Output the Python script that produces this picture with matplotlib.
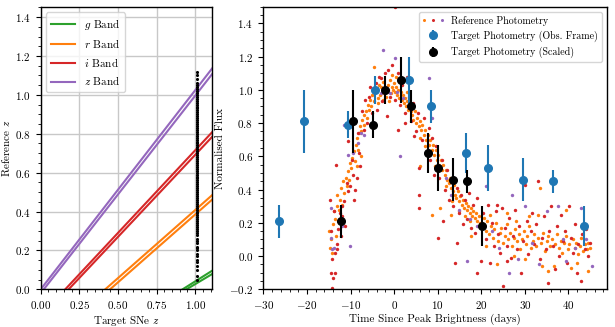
import matplotlib
matplotlib.use("Agg")
import matplotlib.pyplot as plt
import numpy as np
from matplotlib.ticker import AutoMinorLocator
from matplotlib.lines import Line2D
from matplotlib.legend_handler import HandlerTuple

plt.rcParams['font.family'] = 'serif'
plt.rcParams['font.serif'] = ['cmr10']
plt.rcParams['mathtext.fontset'] = 'cm'
plt.rcParams['axes.formatter.use_mathtext'] = True
plt.rcParams['font.size'] = 8

# --- left panel: band edges (target z, reference z) end points ---
bands = ['g', 'r', 'i', 'z']
band_colors = ['tab:green', 'tab:orange', 'tab:red', 'tab:purple']
# x-intercept (ref z = 0) of the two edge lines of each band
band_x0 = [(0.919, 0.944), (0.418, 0.449), (0.159, 0.181), (0.000, 0.020)]
# ref z reached by each edge at target z = 1.111
band_y1 = [(0.096, 0.079), (0.485, 0.462), (0.809, 0.785), (1.137, 1.108)]
z_end = 1.111

# reference redshifts of the sample at the target redshift
strip_x = 1.01
strip_z = [0.05, 0.07, 0.10, 0.12, 0.14, 0.15, 0.17, 0.18, 0.20, 0.21, 0.22, 0.24,
           0.25, 0.26, 0.28, 0.29, 0.30, 0.31, 0.32, 0.33, 0.34, 0.35, 0.36, 0.37,
           0.38, 0.39, 0.40, 0.41, 0.42, 0.43, 0.44, 0.45, 0.46, 0.47, 0.48, 0.49,
           0.50, 0.51, 0.52, 0.53, 0.54, 0.55, 0.56, 0.57, 0.58, 0.59, 0.60, 0.61,
           0.62, 0.63, 0.64, 0.65, 0.66, 0.67, 0.68, 0.69, 0.70, 0.71, 0.72, 0.73,
           0.74, 0.75, 0.76, 0.77, 0.78, 0.79, 0.80, 0.81, 0.82, 0.83, 0.84, 0.85,
           0.86, 0.87, 0.88, 0.89, 0.90, 0.91, 0.92, 0.93, 0.94, 0.95, 0.96, 0.97,
           0.98, 0.99, 1.00, 1.01, 1.02, 1.03, 1.04, 1.05, 1.06, 1.08, 1.10, 1.12]

# --- right panel: reference photometry ---
orange_pts = [
    (-15.0, 0.15), (-14.7, 0.05), (-14.5, 0.10), (-14.3, 0.02), (-14.1, 0.19), (-13.9, 0.27),
    (-13.6, 0.22), (-13.4, 0.12), (-13.1, 0.37), (-13.0, 0.30), (-12.8, 0.21), (-12.6, 0.28),
    (-12.4, 0.34), (-12.1, 0.41), (-11.9, 0.31), (-11.7, 0.45), (-11.4, 0.38), (-11.1, 0.47),
    (-10.9, 0.42), (-10.6, 0.51), (-10.3, 0.46), (-10.1, 0.56), (-9.8, 0.53), (-9.6, 0.59),
    (-9.3, 0.63), (-9.0, 0.57), (-8.8, 0.67), (-8.5, 0.71), (-8.3, 0.64), (-8.0, 0.74),
    (-7.8, 0.78), (-7.5, 0.75), (-7.3, 0.82), (-7.0, 0.79), (-6.8, 0.85), (-6.5, 0.87),
    (-6.3, 0.83), (-6.0, 0.91), (-5.8, 0.88), (-5.5, 0.94), (-5.3, 0.90), (-5.0, 0.97),
    (-4.7, 1.14), (-4.6, 0.93), (-8.6, 0.54), (-7.6, 0.60),
    (-4.3, 0.99), (-4.0, 1.01), (-3.8, 0.95), (-3.5, 1.03), (-3.3, 0.97), (-3.0, 1.02),
    (-2.8, 0.98), (-2.5, 1.05), (-2.3, 0.99), (-2.0, 1.01), (-1.8, 0.96), (-1.5, 1.03),
    (-1.3, 1.00), (-1.0, 1.06), (-0.8, 0.98), (-0.5, 1.02), (-0.3, 1.00), (0.0, 1.04),
    (0.2, 0.99), (0.5, 1.02), (0.7, 0.97), (1.0, 1.00), (1.2, 0.95), (1.5, 0.99),
    (1.7, 0.94), (2.0, 0.97), (2.2, 0.92), (2.5, 0.95), (2.7, 0.90), (3.0, 0.93),
    (3.2, 0.88), (3.5, 0.91), (3.8, 0.87), (-3.6, 0.92), (-2.6, 0.94), (-1.1, 0.93),
    (0.4, 1.08), (1.4, 1.05), (2.9, 0.99), (-0.6, 1.09),
    (4.1, 0.85), (4.4, 0.82), (4.7, 0.87), (5.0, 0.80), (5.3, 0.83), (5.6, 0.78),
    (5.9, 0.81), (6.2, 0.76), (6.5, 0.79), (6.8, 0.73), (7.1, 0.76), (7.4, 0.70),
    (7.7, 0.73), (8.0, 0.67), (8.3, 0.70), (8.6, 0.64), (8.9, 0.67), (9.2, 0.61),
    (9.5, 0.64), (9.8, 0.58), (10.1, 0.61), (10.4, 0.55), (10.7, 0.58), (11.0, 0.52),
    (11.3, 0.55), (11.6, 0.49), (11.9, 0.52), (12.2, 0.46), (12.5, 0.44), (12.8, 0.47),
    (13.1, 0.41), (13.4, 0.39), (13.7, 0.43), (14.0, 0.37), (14.3, 0.35), (14.6, 0.39),
    (14.9, 0.33), (15.2, 0.36), (15.5, 0.31), (15.8, 0.34), (16.1, 0.29), (16.4, 0.32),
    (16.7, 0.28), (17.0, 0.30), (17.3, 0.26), (17.6, 0.29), (17.9, 0.24), (18.2, 0.27),
    (18.5, 0.23), (18.8, 0.26), (19.1, 0.21), (19.4, 0.24), (19.7, 0.20), (6.0, 0.71),
    (7.0, 0.66), (9.4, 0.54), (11.8, 0.42), (13.2, 0.33), (15.0, 0.27), (16.3, 0.24),
    (17.5, 0.21), (5.9, 0.54), (8.6, 0.25), (10.6, 0.29), (13.1, 0.25), (17.7, 0.12),
    (20.2, 0.19), (20.6, 0.23), (21.0, 0.15), (21.4, 0.21), (21.8, 0.13), (22.2, 0.18),
    (22.6, 0.11), (23.0, 0.16), (23.4, 0.20), (23.8, 0.09), (24.2, 0.14), (24.6, 0.17),
    (25.0, 0.08), (25.4, 0.12), (25.8, 0.19), (26.2, 0.10), (26.6, 0.14), (27.0, 0.06),
    (27.4, 0.11), (27.8, 0.16), (28.2, 0.09), (28.6, 0.13), (29.0, 0.04), (29.4, 0.10),
    (29.8, 0.15), (30.2, 0.07), (30.6, 0.12), (31.0, 0.18), (31.4, 0.05), (31.8, 0.09),
    (32.2, 0.13), (32.6, 0.06), (33.0, 0.11), (33.4, 0.41), (33.8, 0.08), (34.2, 0.14),
    (34.6, 0.03), (35.0, 0.09), (35.4, 0.12), (35.8, 0.06), (36.2, 0.10), (36.6, -0.06),
    (37.0, 0.07), (37.4, 0.13), (37.8, 0.05), (38.2, 0.09), (38.6, 0.02), (39.0, 0.08),
    (39.4, 0.12), (39.8, 0.04), (40.2, 0.07), (40.6, -0.07), (41.0, 0.10), (41.4, 0.05),
    (41.8, 0.08), (42.2, 0.01), (42.6, 0.06), (43.0, 0.11), (43.4, 0.03), (43.8, 0.07),
    (44.2, 0.04), (44.6, 0.08), (45.0, 0.05), (22.0, 0.25), (26.0, 0.26), (28.0, 0.21),
    (31.0, 0.24), (33.0, 0.25), (39.5, 0.28), (21.0, 0.06), (23.5, -0.05), (27.5, 0.00),
    (30.0, -0.02), (34.0, -0.06), (35.4, -0.09), (42.0, -0.04), (44.5, -0.09),
]
red_pts = [
    (-14.8, 0.34), (-14.5, -0.10), (-14.3, -0.02), (-14.2, -0.19), (-14.0, -0.13), (-13.6, -0.10),
    (-13.5, 0.02), (-13.3, 0.55), (-13.2, 0.04), (-13.0, 0.07), (-12.8, 0.16), (-12.5, 0.26),
    (-12.2, 0.12), (-11.9, 0.24), (-11.6, 0.33), (-11.3, 0.18), (-10.9, 0.44), (-10.7, 0.69),
    (-10.5, 0.39), (-10.2, 0.42), (-9.7, 0.58), (-9.4, 0.49), (-9.1, 0.34), (-8.9, 0.40),
    (-8.6, 0.47), (-8.3, 0.74), (-8.0, 0.62), (-7.8, 0.54), (-7.4, 0.87), (-7.0, 0.76),
    (-6.6, 0.94), (-6.3, 0.80), (-5.8, 0.96), (-5.5, 1.02), (-5.0, 0.86), (-12.0, 0.30),
    (-13.8, 0.27), (-14.6, 0.15),
    (-4.2, 1.04), (-3.9, 0.88), (-3.4, 1.08), (-3.1, 1.07), (-2.7, 0.93), (-2.2, 1.10),
    (-1.9, 0.99), (-1.4, 1.12), (-0.9, 0.96), (-0.4, 1.15), (0.1, 1.50), (0.3, 0.94),
    (0.9, 1.10), (1.4, 0.91), (1.9, 1.03), (2.4, 0.86), (2.9, 1.08), (3.4, 0.96),
    (3.9, 0.81), (0.8, 0.76), (4.5, 0.72), (2.5, 0.80), (-1.6, 0.84),
    (4.4, 0.92), (5.0, 0.75), (5.5, 0.86), (5.8, 0.53), (5.8, 0.37), (5.8, 0.29),
    (6.3, 0.70), (6.8, 0.83), (7.3, 0.62), (7.9, 0.77), (8.3, 0.58), (8.8, 0.71),
    (9.2, 0.49), (9.7, 0.66), (10.0, 0.11), (10.4, 0.47), (10.9, 0.58), (11.3, 0.21),
    (11.6, 0.40), (12.1, 0.52), (12.6, 0.34), (13.0, 0.45), (13.5, 0.30), (14.0, -0.04),
    (14.4, 0.08), (14.5, 0.41), (14.9, 0.26), (15.3, 0.37), (15.8, 0.19), (16.2, 0.34),
    (16.7, 0.22), (17.2, 0.38), (17.6, 0.17), (18.1, 0.31), (18.6, 0.14), (19.1, 0.35),
    (19.0, -0.10), (20.0, -0.03),
    (20.5, 0.26), (21.0, 0.10), (21.5, 0.31), (22.0, -0.04), (22.4, 0.20), (22.9, 0.06),
    (23.3, 0.27), (23.8, 0.13), (24.2, 0.02), (24.7, 0.29), (25.1, -0.18), (25.5, 0.17),
    (26.0, 0.06), (26.4, 0.23), (26.9, -0.01), (27.3, 0.12), (27.8, 0.28), (28.2, 0.04),
    (28.6, 0.18), (29.1, -0.10), (29.5, 0.09), (30.0, 0.43), (30.4, 0.21), (30.8, 0.01),
    (31.3, 0.15), (31.7, 0.26), (32.1, 0.07), (32.6, 0.19), (33.0, 0.45), (33.4, -0.02),
    (33.9, 0.11), (34.3, 0.24), (34.8, 0.04), (35.2, -0.16), (35.6, 0.15), (36.1, 0.30),
    (36.5, 0.06), (36.9, -0.08), (37.4, 0.18), (37.8, 0.00), (38.3, 0.25), (38.7, 0.09),
    (39.2, 0.15), (39.6, -0.04), (40.1, 0.30), (40.5, 0.11), (41.0, 0.02), (41.4, 0.19),
    (41.9, -0.10), (42.3, 0.07), (42.8, -0.15), (43.2, 0.13), (43.7, 0.04), (44.1, 0.16),
    (44.6, 0.00), (45.0, 0.08), (23.5, 0.31), (25.8, -0.03),
]
purple_pts = [
    (-14.6, 0.29), (-14.4, 0.11), (-14.2, 0.04), (-13.9, 0.05), (-12.0, 0.18), (-11.4, 0.79),
    (-10.2, 0.06), (-10.6, 0.61), (-9.5, 0.62), (-8.2, 0.68), (-7.6, 0.74), (-6.9, 0.73),
    (-2.6, 1.24), (-2.9, 0.98), (-1.0, 0.98), (0.1, 1.19), (0.6, 0.99), (1.4, 0.60),
    (2.0, 0.95), (7.9, 1.07), (8.8, 0.83), (10.0, 0.52), (12.0, 0.47), (13.0, 0.37),
    (15.0, 0.28), (16.7, -0.03), (17.5, 0.22), (19.0, 0.18), (21.2, 0.42), (22.5, 0.15),
    (24.0, 0.05), (26.3, -0.10), (27.0, 0.37), (28.5, -0.02), (30.1, 0.30), (31.6, 0.08),
    (33.3, -0.05), (35.0, 0.27), (37.5, 0.30), (38.8, 0.10), (39.5, -0.03), (41.5, 0.05),
    (43.0, 0.29), (44.0, 0.10), (45.5, -0.06),
]

# target photometry
flux = [0.21, 0.81, 0.79, 1.00, 1.06, 0.90, 0.62, 0.53, 0.46, 0.45, 0.18]
flux_err = [0.10, 0.19, 0.08, 0.085, 0.14, 0.10, 0.12, 0.14, 0.13, 0.07, 0.12]
t_obs = [-26.5, -20.6, -10.6, -4.5, 3.3, 8.5, 16.6, 21.6, 29.5, 36.5, 43.6]
t_scaled = [-12.1, -9.4, -4.8, -2.0, 1.6, 3.9, 7.8, 10.1, 13.6, 16.8, 20.2]

fig = plt.figure(figsize=(6.15, 3.27), dpi=100)
ax1 = fig.add_axes([0.0662, 0.1153, 0.279, 0.864])
ax2 = fig.add_axes([0.4276, 0.1153, 0.559, 0.864])

# left panel
ax1.grid(True, color='#c8c8c8', lw=1.0, zorder=0)
for b, c, x0s, y1s in zip(bands, band_colors, band_x0, band_y1):
    for k, (x0, y1) in enumerate(zip(x0s, y1s)):
        ax1.plot([x0, z_end], [0, y1], color=c, lw=1.5, zorder=2,
                 label=f'${b}$ Band' if k == 0 else None)
ax1.scatter([strip_x] * len(strip_z), strip_z, s=5, color='k', lw=0, zorder=3)
ax1.set_xlim(0, z_end)
ax1.set_ylim(0, 1.453)
ax1.set_xticks([0, 0.25, 0.5, 0.75, 1.0])
ax1.set_xlabel('Target SNe $z$', labelpad=2)
ax1.set_ylabel('Reference $z$', labelpad=2)
leg1 = ax1.legend(loc='upper left', fontsize=8, handlelength=2.2)
for h in leg1.get_lines():
    h.set_linewidth(1.5)

# right panel
for pts, c in [(orange_pts, 'tab:orange'), (red_pts, 'tab:red'), (purple_pts, 'tab:purple')]:
    t, f = zip(*pts)
    ax2.scatter(t, f, s=6, color=c, lw=0, zorder=2)
ax2.errorbar(t_obs, flux, yerr=flux_err, fmt='o', color='tab:blue', ms=5.5, lw=1.5,
             zorder=3, label='Target Photometry (Obs. Frame)')
ax2.errorbar(t_scaled, flux, yerr=flux_err, fmt='o', color='k', ms=5.5, lw=1.5,
             zorder=4, label='Target Photometry (Scaled)')
ax2.set_xlim(-30.1, 48.8)
ax2.set_ylim(-0.2, 1.5)
ax2.set_xlabel('Time Since Peak Brightness (days)', labelpad=2)
ax2.set_ylabel('Normalised Flux', labelpad=3)

ref_handle = tuple(Line2D([], [], ls='', marker='o', ms=2.2, color=c, mew=0)
                   for c in ['tab:orange', 'tab:red', 'tab:purple'])
h, l = ax2.get_legend_handles_labels()
ax2.legend([ref_handle] + h, ['Reference Photometry'] + l, loc='upper right',
           fontsize=7.2, handler_map={tuple: HandlerTuple(ndivide=None, pad=0.6)})

for ax in (ax1, ax2):
    ax.xaxis.set_minor_locator(AutoMinorLocator())
    ax.yaxis.set_minor_locator(AutoMinorLocator())
    for s in ax.spines.values():
        s.set_linewidth(1.0)

fig.savefig('out.png', dpi=100)
